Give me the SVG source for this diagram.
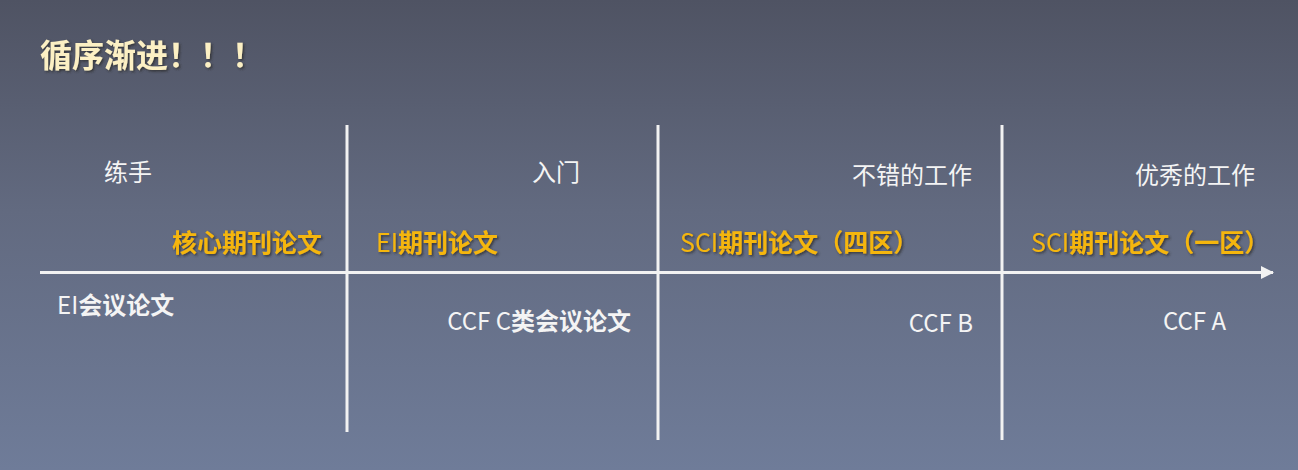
<svg xmlns="http://www.w3.org/2000/svg" width="1298" height="470" viewBox="0 0 1298 470">
<defs>
<linearGradient id="bg" x1="0" y1="0" x2="0" y2="1">
<stop offset="0" stop-color="#4f5363"/>
<stop offset="0.45" stop-color="#626a80"/>
<stop offset="1" stop-color="#6f7c99"/>
</linearGradient>
<filter id="sh" x="-10%" y="-30%" width="120%" height="160%">
<feDropShadow dx="1.5" dy="1.5" stdDeviation="1" flood-color="#2a2a2a" flood-opacity="0.8"/>
</filter>
<marker id="arr" markerWidth="13" markerHeight="13" refX="12" refY="6.5" orient="auto" markerUnits="userSpaceOnUse">
<path d="M0,0 L13,6.5 L0,13 Z" fill="#f2f2f2"/>
</marker>
<style>
text{font-family:"Noto Sans CJK SC","Noto Sans",sans-serif;}
.w{fill:#f4f4f4;font-size:24px;}
.o{fill:#f5b60c;font-size:25px;font-weight:bold;filter:url(#sh);}
.b{fill:#f4f4f4;font-size:24px;}
.bd{font-weight:bold;}
.nb{font-weight:normal;}
.ln{stroke:#f2f2f2;stroke-width:3;fill:none;}
</style>
</defs>
<rect width="1298" height="470" fill="url(#bg)"/>
<text id="title" x="40" y="67" style="font-size:32px;font-weight:bold;fill:#fcf0c4;filter:url(#sh);">循序渐进！！！</text>
<g id="connectors">
<line class="ln" x1="40" y1="272.5" x2="1273" y2="272.5" marker-end="url(#arr)"/>
<line class="ln" x1="347" y1="125" x2="347" y2="432"/>
<line class="ln" x1="658" y1="125" x2="658" y2="440"/>
<line class="ln" x1="1002" y1="125" x2="1002" y2="440"/>
</g>
<g id="stage1">
<text class="w" x="104" y="181">练手</text>
<text class="o" x="322" y="252" text-anchor="end">核心期刊论文</text>
<text class="b" x="57" y="314"><tspan class="nb">EI</tspan><tspan class="bd">会议论文</tspan></text>
</g>
<g id="stage2">
<text class="w" x="532" y="181">入门</text>
<text class="o" x="376" y="252"><tspan class="nb">EI</tspan>期刊论文</text>
<text class="b" x="631" y="330" text-anchor="end"><tspan class="nb">CCF C</tspan><tspan class="bd">类会议论文</tspan></text>
</g>
<g id="stage3">
<text class="w" x="972" y="184" text-anchor="end">不错的工作</text>
<text class="o" x="680" y="252"><tspan class="nb">SCI</tspan>期刊论文（四区）</text>
<text class="b" x="973" y="332" text-anchor="end">CCF B</text>
</g>
<g id="stage4">
<text class="w" x="1255" y="184" text-anchor="end">优秀的工作</text>
<text class="o" x="1031" y="252"><tspan class="nb">SCI</tspan>期刊论文（一区）</text>
<text class="b" x="1163" y="330">CCF A</text>
</g>
</svg>
